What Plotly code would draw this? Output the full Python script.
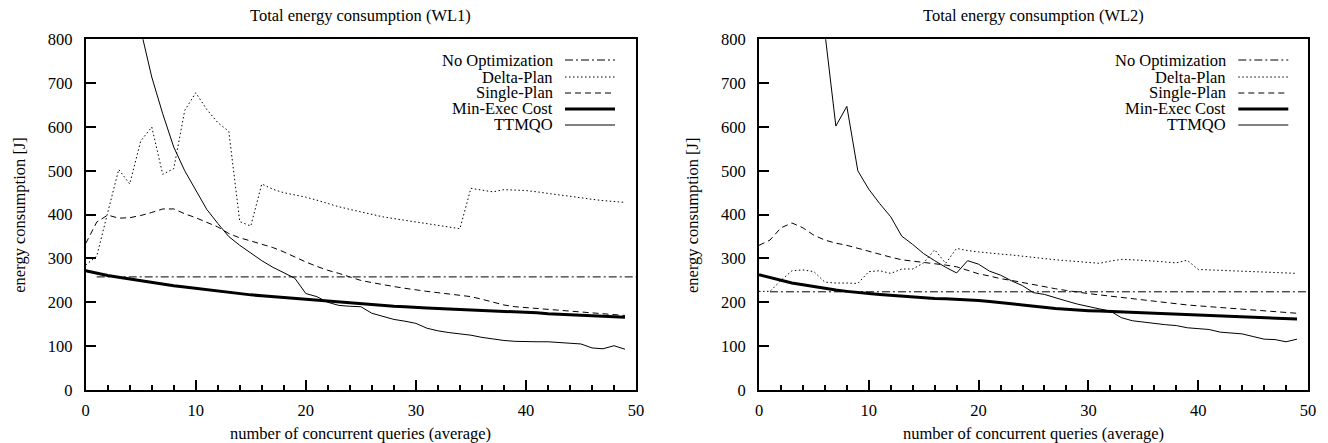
import plotly.graph_objects as go

# ---------------- data ----------------
x_all = list(range(0, 50))

# WL1
wl1_noopt_x = [1, 50]
wl1_noopt_y = [258, 258]
wl1_delta = [285, 305, 405, 503, 470, 568, 600, 492, 505, 638, 678, 640, 610, 590, 384, 374,
             470, 458, 450, 445, 440, 433, 425, 418, 412, 406, 400, 395, 391, 387,
             383, 379, 375, 372, 368, 460, 456, 452, 457, 456, 455, 452, 448, 445, 442,
             438, 435, 432, 430, 428]
wl1_single = [334, 383, 399, 392, 393, 398, 405, 413, 413, 402, 393, 383, 372, 357, 347, 340,
              333, 325, 315, 303, 292, 282, 273, 266, 258, 250, 245, 240, 236, 232,
              228, 225, 222, 219, 216, 213, 207, 200, 194, 190, 188, 186, 184, 182, 180,
              178, 176, 174, 172, 170]
wl1_minexec = [272, 266, 261, 257, 253, 249, 245, 241, 238, 235, 232, 228, 225, 222, 219, 217,
               215, 213, 211, 208, 206, 204, 202, 201, 199, 197, 195, 193, 191, 190,
               188, 187, 186, 185, 184, 183, 182, 180, 179, 178, 177, 176, 174, 173, 172,
               171, 170, 168, 167, 166]
wl1_ttmqo_x = list(range(5, 50))
wl1_ttmqo = [822, 714, 630, 554, 500, 455, 412, 380, 350, 330, 312, 295, 280, 268, 255,
             220, 213, 200, 193, 191, 190, 175, 168, 161, 157, 152, 141, 135, 131, 128,
             125, 120, 116, 113, 111, 110, 110, 110, 108, 107, 105, 96, 94, 101, 93]

# WL2
wl2_noopt_x = [1, 50]
wl2_noopt_y = [224, 224]
wl2_delta = [225, 225, 250, 272, 274, 270, 246, 244, 244, 243, 270, 272, 266, 276, 276, 290,
             320, 289, 323, 318, 315, 312, 310, 308, 305, 303, 300, 297, 295, 293,
             291, 289, 294, 298, 297, 296, 294, 292, 290, 296, 275, 274, 273, 272, 271,
             270, 269, 268, 267, 266]
wl2_single = [330, 342, 370, 381, 370, 353, 342, 335, 330, 323, 316, 310, 303, 297, 294, 292,
              289, 285, 281, 273, 265, 260, 254, 250, 245, 240, 235, 231, 227, 223,
              220, 217, 214, 211, 208, 205, 202, 199, 196, 194, 192, 190, 188, 186, 184,
              182, 180, 178, 176, 175]
wl2_minexec = [263, 257, 250, 244, 240, 236, 231, 228, 225, 222, 220, 218, 216, 214, 212, 210,
               209, 208, 207, 205, 204, 202, 200, 197, 194, 191, 189, 186, 184, 182,
               181, 180, 179, 178, 177, 176, 175, 174, 173, 172, 171, 170, 169, 168, 167,
               166, 165, 164, 163, 162]
wl2_ttmqo_x = list(range(6, 50))
wl2_ttmqo = [815, 602, 647, 500, 458, 425, 395, 351, 332, 311, 295, 280, 267, 295, 287,
             271, 262, 249, 238, 222, 218, 210, 203, 196, 190, 185, 180, 165, 158, 155,
             151, 149, 147, 142, 140, 138, 132, 130, 128, 122, 116, 115, 110, 116]

series_names = ["No Optimization", "Delta-Plan", "Single-Plan", "Min-Exec Cost", "TTMQO"]
titles = ["Total energy consumption (WL1)", "Total energy consumption (WL2)"]
x_title = "number of concurrent queries (average)"
y_title = "energy consumption [J]"

# ---------------- styles / geometry ----------------
FONT = "Liberation Serif"
FS = 16.5
styles = {
    "No Optimization": dict(width=1, dash="8px,3px,2px,3px"),
    "Delta-Plan": dict(width=1, dash="1.5px,2.5px"),
    "Single-Plan": dict(width=1, dash="6px,4px"),
    "Min-Exec Cost": dict(width=3, dash="solid"),
    "TTMQO": dict(width=1, dash="solid"),
}

PAGE_OFF = 8           # browser body margin
FW, FH = 1320, 435     # figure size reaching the window's right/bottom edges


def px(x):
    return (x - PAGE_OFF) / FW


def py(y):
    return (FH - (y - PAGE_OFF)) / FH


fig = go.Figure()

panels = [
    ("x", "y", [(wl1_noopt_x, wl1_noopt_y), (x_all, wl1_delta), (x_all, wl1_single),
                (x_all, wl1_minexec), (wl1_ttmqo_x, wl1_ttmqo)]),
    ("x2", "y2", [(wl2_noopt_x, wl2_noopt_y), (x_all, wl2_delta), (x_all, wl2_single),
                  (x_all, wl2_minexec), (wl2_ttmqo_x, wl2_ttmqo)]),
]
for xa, ya, data in panels:
    for name, (xs, ys) in zip(series_names, data):
        fig.add_trace(go.Scatter(x=xs, y=ys, mode="lines", name=name, showlegend=False,
                                 line=dict(color="black", **styles[name]),
                                 xaxis=xa, yaxis=ya, hoverinfo="skip"))

xdom = [[px(85.7), px(636)], [px(759), px(1308)]]
ydom = [py(390), py(39.3)]

axis_common = dict(showgrid=False, zeroline=False, showline=True, linecolor="black",
                   linewidth=2, mirror=True, ticks="inside", tickcolor="black",
                   tickwidth=1.5, ticklen=10, automargin=False,
                   tickfont=dict(family=FONT, size=FS, color="black"))

for i, suffix in enumerate(["", "2"]):
    fig.update_layout(**{
        "xaxis" + suffix: dict(axis_common, domain=xdom[i], range=[0, 50], dtick=10, tick0=0,
                               anchor="y" + suffix, ticklabelstandoff=4,
                               minor=dict(dtick=2, tick0=0, ticks="inside", ticklen=5,
                                          tickwidth=1.5, tickcolor="black")),
        "yaxis" + suffix: dict(axis_common, domain=ydom, range=[0, 800], dtick=100,
                               anchor="x" + suffix, ticklabelstandoff=8),
    })

annotations = []
shapes = []
left_px = [85.7, 759]
right_px = [636, 1308]
for i in range(2):
    xc_px = (left_px[i] + right_px[i]) / 2
    annotations.append(dict(text=titles[i], xref="paper", yref="paper",
                            x=px(xc_px), y=py(15.5), showarrow=False,
                            xanchor="center", yanchor="middle",
                            font=dict(family=FONT, size=FS, color="black")))
    annotations.append(dict(text=x_title, xref="paper", yref="paper",
                            x=px(xc_px), y=py(433), showarrow=False,
                            xanchor="center", yanchor="middle",
                            font=dict(family=FONT, size=FS, color="black")))
    annotations.append(dict(text=y_title, xref="paper", yref="paper",
                            x=px(left_px[i] - 66), y=py(215), showarrow=False,
                            textangle=-90, xanchor="center", yanchor="middle",
                            font=dict(family=FONT, size=FS, color="black")))
    off = 0 if i == 0 else 673.3
    rows = [60, 77, 93, 109, 125]
    for name, ry in zip(series_names, rows):
        annotations.append(dict(text=name, xref="paper", yref="paper",
                                x=px(555 + off), y=py(ry), showarrow=False,
                                xanchor="right", yanchor="middle",
                                font=dict(family=FONT, size=FS, color="black")))
        shapes.append(dict(type="line", xref="paper", yref="paper",
                           x0=px(565 + off), x1=px(615 + off),
                           y0=py(ry), y1=py(ry),
                           line=dict(color="black", **styles[name])))

fig.update_layout(template="none", width=FW, height=FH, margin=dict(l=0, r=0, t=0, b=0),
                  paper_bgcolor="white", plot_bgcolor="white",
                  annotations=annotations, shapes=shapes, showlegend=False,
                  font=dict(family=FONT, size=FS, color="black"))

fig.write_html("out.html")
